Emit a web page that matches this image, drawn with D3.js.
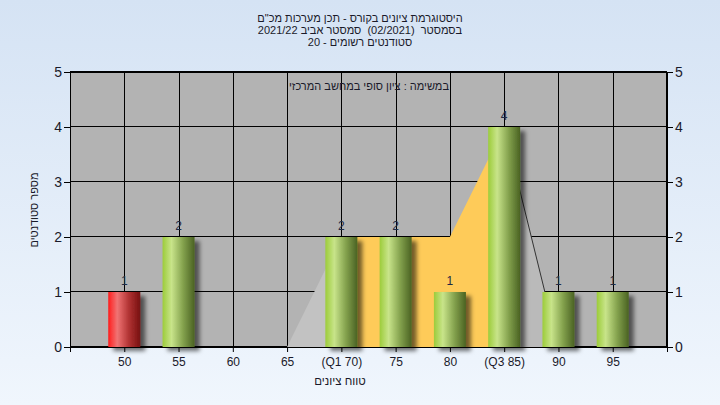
<!DOCTYPE html>
<html><head><meta charset="utf-8">
<script src="https://cdn.jsdelivr.net/npm/d3@7"></script>
<style>
html,body{margin:0;padding:0;}
svg{display:block;}
text{font-family:"Liberation Sans","DejaVu Sans",Arial,sans-serif;}
</style></head>
<body>
<svg id="c" width="720" height="405"></svg>
<script>
// ---- data ----
const grades = [50,55,60,65,70,75,80,85,90,95];
const tickLabels = ["50","55","60","65","(Q1 70)","75","80","(Q3 85)","90","95"];
const counts = [1,2,0,0,2,2,1,4,1,1];
const failing = [true,false,false,false,false,false,false,false,false,false];
const yTicks = [0,1,2,3,4,5];
const leftTail = [{g:65,v:0},{g:70,v:2}];
const iqrBand = [{g:70,v:2},{g:75,v:2},{g:80,v:2},{g:85,v:4}];
const rightTail = [{g:85,v:4},{g:90,v:0}];
const titleLines = ["היסטוגרמת ציונים בקורס - תכן מערכות מכ\"ם","בסמסטר  (02/2021)  סמסטר אביב 2021/22","סטודנטים רשומים - 20"];
const subTitle = "במשימה : ציון סופי במחשב המרכזי";
const xTitle = "טווח ציונים";
const yTitle = "מספר סטודנטים";

const svg = d3.select("#c");
const W=720,H=405;
const L=70,R=667,T=72,B=347;
const FONT='"Liberation Sans","DejaVu Sans",Arial,sans-serif';

function rtlText(parent, str, px, py, size){
  return parent.append("text").attr("x",px).attr("y",py).attr("text-anchor","middle")
    .attr("direction","rtl").style("unicode-bidi","embed").style("white-space","pre")
    .attr("font-size",size).attr("font-family",FONT).attr("fill","#1a1a2a").text(str);
}

const defs = svg.append("defs");
const bg = defs.append("linearGradient").attr("id","bg").attr("x1",0).attr("y1",0).attr("x2",0).attr("y2",1);
bg.append("stop").attr("offset","0%").attr("stop-color","#d5e3f4");
bg.append("stop").attr("offset","100%").attr("stop-color","#f0f6fd");
function barGrad(id, c0, c1, c2, c3){
  const g = defs.append("linearGradient").attr("id",id).attr("x1",0).attr("y1",0).attr("x2",1).attr("y2",0);
  g.append("stop").attr("offset","0%").attr("stop-color",c0);
  g.append("stop").attr("offset","28%").attr("stop-color",c1);
  g.append("stop").attr("offset","65%").attr("stop-color",c2);
  g.append("stop").attr("offset","100%").attr("stop-color",c3);
}
barGrad("gGreen","#9ccc3a","#c8e48a","#82a04c","#4a6222");
barGrad("gRed","#ff1c1c","#f07474","#b03232","#761010");
const f = defs.append("filter").attr("id","sh").attr("x","-30%").attr("y","-30%").attr("width","170%").attr("height","160%");
f.append("feDropShadow").attr("dx",5).attr("dy",4).attr("stdDeviation",2).attr("flood-color","#000").attr("flood-opacity",0.55);

svg.append("rect").attr("width",W).attr("height",H).attr("fill","url(#bg)");

const x = d3.scalePoint().domain(grades).range([L,R]).padding(1);
const y = d3.scaleLinear().domain([0,5]).range([B,T]);
const bw = 32;

// plot background
svg.append("rect").attr("x",L).attr("y",T).attr("width",R-L).attr("height",B-T).attr("fill","#b3b3b3");

// grid
const grid = svg.append("g").attr("stroke","#000").attr("stroke-width",1).attr("shape-rendering","crispEdges");
grid.selectAll("line.h").data(yTicks).join("line")
  .attr("x1",L).attr("x2",R).attr("y1",d=>Math.round(y(d))-0.5).attr("y2",d=>Math.round(y(d))-0.5);
grid.selectAll("line.v").data(grades).join("line")
  .attr("x1",d=>Math.round(x(d))+0.5).attr("x2",d=>Math.round(x(d))+0.5).attr("y1",T).attr("y2",B);

// areas
const area = d3.area().x(d=>x(d.g)).y0(y(0)).y1(d=>y(d.v));
const line = d3.line().x(d=>x(d.g)).y(d=>y(d.v));
svg.append("path").datum(leftTail).attr("d",area).attr("fill","#c2c2c2");
svg.append("path").datum(iqrBand).attr("d",area).attr("fill","#fecb59");
svg.append("path").datum(rightTail).attr("d",area).attr("fill","#bababa");
svg.append("path").datum(rightTail).attr("d",line).attr("fill","none").attr("stroke","#333").attr("stroke-width",1);

// bars
svg.append("g").selectAll("rect").data(grades.map((g,i)=>({g,v:counts[i],fail:failing[i]})).filter(d=>d.v>0)).join("rect")
  .attr("x",d=>x(d.g)-bw/2).attr("width",bw)
  .attr("y",d=>y(d.v)).attr("height",d=>y(0)-y(d.v))
  .attr("fill",d=>d.fail?"url(#gRed)":"url(#gGreen)")
  .attr("filter","url(#sh)");

// value labels
svg.append("g").selectAll("text").data(grades.map((g,i)=>({g,v:counts[i]})).filter(d=>d.v>0)).join("text")
  .attr("x",d=>x(d.g)).attr("y",d=>y(d.v)-7).attr("text-anchor","middle")
  .attr("font-size",12).attr("fill","#1e2a44").text(d=>d.v);

// plot frame
svg.append("rect").attr("x",L+0.5).attr("y",T+0.5).attr("width",R-L-1).attr("height",B-T)
  .attr("fill","none").attr("stroke","#000").attr("shape-rendering","crispEdges");

// axes
const ax = d3.axisBottom(x).tickSize(5).tickFormat((d,i)=>tickLabels[i]);
const gx = svg.append("g").attr("transform",`translate(0,${B})`).call(ax);
const ayL = d3.axisLeft(y).tickValues(yTicks).tickSize(6).tickFormat(d3.format("d"));
const gyl = svg.append("g").attr("transform",`translate(${L},0)`).call(ayL);
const ayR = d3.axisRight(y).tickValues(yTicks).tickSize(6).tickFormat(d3.format("d"));
const gyr = svg.append("g").attr("transform",`translate(${R},0)`).call(ayR);
[gx,gyl,gyr].forEach(g=>{
  g.select(".domain").attr("stroke","#000");
  g.selectAll(".tick line").attr("stroke","#000");
  g.selectAll("text").attr("fill","#1a1a2a").attr("font-family",FONT);
});
gx.selectAll("text").attr("font-size",12).attr("dy","0.95em");
gyl.selectAll("text").attr("font-size",14).attr("x",-8);
gyr.selectAll("text").attr("font-size",14).attr("x",8);
// left edge tick on x axis
svg.append("line").attr("x1",L+0.5).attr("x2",L+0.5).attr("y1",B).attr("y2",B+5).attr("stroke","#000");

// titles
titleLines.forEach((t,i)=> rtlText(svg, t, 360, 22+i*12, 11));
rtlText(svg, subTitle, 369, 90, 11);
rtlText(svg, xTitle, 340, 385, 11.5);
const yt = svg.append("g").attr("transform","translate(38,210) rotate(-90)");
rtlText(yt, yTitle, 0, 0, 11);
</script>
</body></html>
